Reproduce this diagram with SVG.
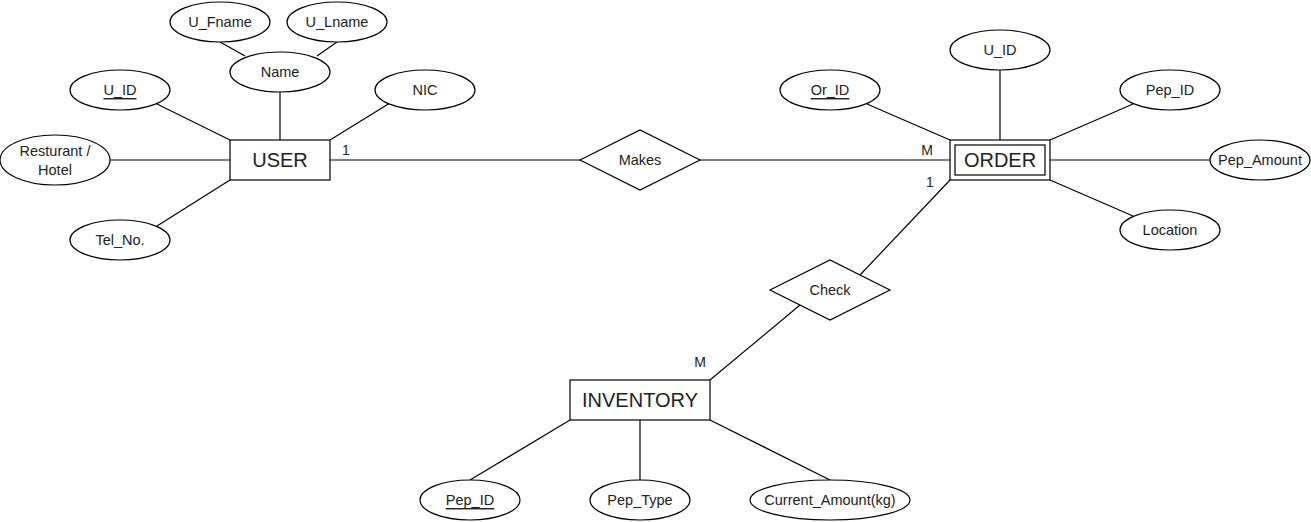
<svg xmlns="http://www.w3.org/2000/svg" width="1311" height="522" viewBox="0 0 1311 522">
<style>
.shape{fill:#fff;stroke:#000;stroke-width:1.2}
.line{stroke:#000;stroke-width:1.2;fill:none}
text{font-family:"Liberation Sans",Arial,sans-serif;fill:#222;text-anchor:middle;dominant-baseline:central}
.attr{font-size:14.5px}
.ent{font-size:20px}
.card{font-size:14px}
.key{text-decoration:underline}
</style>
<rect width="1311" height="522" fill="#fff"/>
<g id="connectors">
<line class="line" x1="245" y1="56" x2="220" y2="42"/>
<line class="line" x1="317" y1="56" x2="337" y2="42"/>
<line class="line" x1="280" y1="92" x2="280" y2="140"/>
<line class="line" x1="157" y1="104" x2="230" y2="140"/>
<line class="line" x1="390" y1="103" x2="330" y2="140"/>
<line class="line" x1="110" y1="160" x2="230" y2="160"/>
<line class="line" x1="157" y1="226" x2="230" y2="180"/>
<line class="line" x1="330" y1="160" x2="580" y2="160"/>
<line class="line" x1="700" y1="160" x2="950" y2="160"/>
<line class="line" x1="1000" y1="70" x2="1000" y2="140"/>
<line class="line" x1="867" y1="104" x2="950" y2="140"/>
<line class="line" x1="1133" y1="104" x2="1050" y2="140"/>
<line class="line" x1="1050" y1="160" x2="1210" y2="160"/>
<line class="line" x1="1050" y1="180" x2="1133" y2="216"/>
<line class="line" x1="950" y1="180" x2="860" y2="275"/>
<line class="line" x1="800" y1="305" x2="710" y2="380"/>
<line class="line" x1="570" y1="420" x2="470" y2="480"/>
<line class="line" x1="640" y1="420" x2="640" y2="480"/>
<line class="line" x1="710" y1="420" x2="830" y2="480"/>
<text class="card" x="346" y="150">1</text>
<text class="card" x="927" y="150">M</text>
<text class="card" x="930" y="182">1</text>
<text class="card" x="700" y="362">M</text>
</g>
<g id="user"><rect class="shape" x="230" y="140" width="100" height="40"/><text class="ent" x="280" y="160">USER</text></g>
<g id="name"><ellipse class="shape" cx="280" cy="72" rx="50" ry="20"/><text class="attr" x="280" y="72">Name</text></g>
<g id="u_fname"><ellipse class="shape" cx="220" cy="22" rx="50" ry="20"/><text class="attr" x="220" y="22">U_Fname</text></g>
<g id="u_lname"><ellipse class="shape" cx="337" cy="22" rx="50" ry="20"/><text class="attr" x="337" y="22">U_Lname</text></g>
<g id="user_uid"><ellipse class="shape" cx="120" cy="90" rx="50" ry="20"/><text class="attr key" x="120" y="90">U_ID</text></g>
<g id="nic"><ellipse class="shape" cx="425" cy="90" rx="50" ry="20"/><text class="attr" x="425" y="90">NIC</text></g>
<g id="resturant"><ellipse class="shape" cx="55" cy="160" rx="55" ry="25"/><text class="attr" x="55" y="151">Resturant /</text><text class="attr" x="55" y="170">Hotel</text></g>
<g id="telno"><ellipse class="shape" cx="120" cy="240" rx="50" ry="20"/><text class="attr" x="120" y="240">Tel_No.</text></g>
<g id="makes"><polygon class="shape" points="580,160 640,130 700,160 640,190"/><text class="attr" x="640" y="160">Makes</text></g>
<g id="order"><rect class="shape" x="950" y="140" width="100" height="40"/><rect class="shape" x="955" y="145" width="90" height="30"/><text class="ent" x="1000" y="160">ORDER</text></g>
<g id="order_uid"><ellipse class="shape" cx="1000" cy="50" rx="50" ry="20"/><text class="attr" x="1000" y="50">U_ID</text></g>
<g id="or_id"><ellipse class="shape" cx="830" cy="90" rx="50" ry="20"/><text class="attr key" x="830" y="90">Or_ID</text></g>
<g id="order_pepid"><ellipse class="shape" cx="1170" cy="90" rx="50" ry="20"/><text class="attr" x="1170" y="90">Pep_ID</text></g>
<g id="pep_amount"><ellipse class="shape" cx="1260" cy="160" rx="50" ry="20"/><text class="attr" x="1260" y="160">Pep_Amount</text></g>
<g id="location"><ellipse class="shape" cx="1170" cy="230" rx="50" ry="20"/><text class="attr" x="1170" y="230">Location</text></g>
<g id="check"><polygon class="shape" points="770,290 830,260 890,290 830,320"/><text class="attr" x="830" y="290">Check</text></g>
<g id="inventory"><rect class="shape" x="570" y="380" width="140" height="40"/><text class="ent" x="640" y="400">INVENTORY</text></g>
<g id="inv_pepid"><ellipse class="shape" cx="470" cy="500" rx="50" ry="20"/><text class="attr key" x="470" y="500">Pep_ID</text></g>
<g id="pep_type"><ellipse class="shape" cx="640" cy="500" rx="50" ry="20"/><text class="attr" x="640" y="500">Pep_Type</text></g>
<g id="current_amount"><ellipse class="shape" cx="830" cy="500" rx="80" ry="20"/><text class="attr" x="830" y="500">Current_Amount(kg)</text></g>
</svg>
